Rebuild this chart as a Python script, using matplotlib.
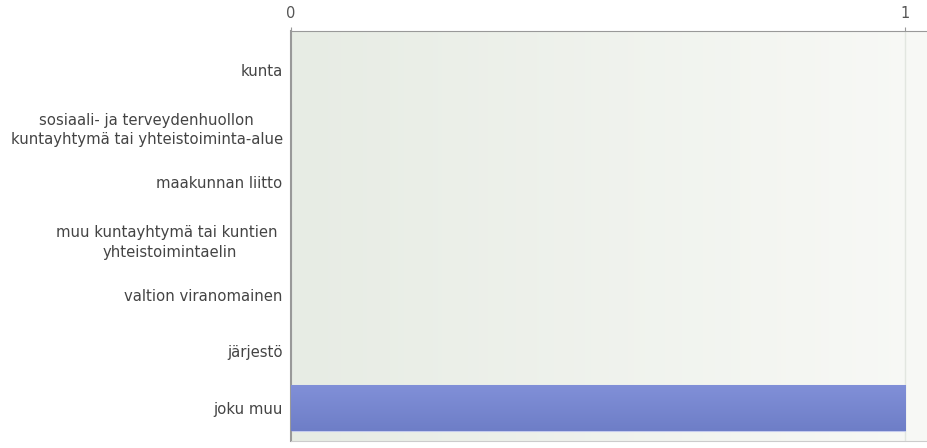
import matplotlib.pyplot as plt
import numpy as np
from matplotlib.colors import LinearSegmentedColormap

categories = ["kunta",
              "sosiaali- ja terveydenhuollon\nkuntayhtymä tai yhteistoiminta-alue",
              "maakunnan liitto",
              "muu kuntayhtymä tai kuntien \nyhteistoimintaelin",
              "valtion viranomainen",
              "järjestö",
              "joku muu"]
values = [0, 0, 0, 0, 0, 0, 1]
xticks = [0, 1]

plt.rcParams['font.family'] = ['DejaVu Sans']

fig = plt.figure(figsize=(9.28, 4.48), dpi=100)
ax = fig.add_axes([291/928, 1-441/448, 1-291/928, 410/448])

ypos = np.arange(len(categories))
ax.set_xlim(0, 1.037)
ax.set_ylim(6.59, -0.69)

# background gradient
bg = LinearSegmentedColormap.from_list('bg', ['#e7ece4', '#f8f9f6'])
ax.imshow(np.linspace(0, 1, 256).reshape(1, -1), cmap=bg, aspect='auto',
          extent=[0, 1.037, 6.59, -0.69], zorder=0)

ax.axvline(1, color='#e2e6e0', lw=1, zorder=1)

bars = ax.barh(ypos, values, height=0.82, color='#7b8ad2', zorder=2,
               edgecolor='#c4cbee', linewidth=0.8)
barcm = LinearSegmentedColormap.from_list('bar', ['#8190d8', '#6e7ec7'])
for b, v in zip(bars, values):
    if v > 0:
        y0 = b.get_y()
        im = ax.imshow(np.linspace(0, 1, 64).reshape(-1, 1), cmap=barcm, aspect='auto',
                       extent=[0, v, y0 + b.get_height(), y0], zorder=3)
        im.set_clip_path(b)

ax.set_yticks(ypos)
ax.set_yticklabels(categories, fontsize=10.7, color='#444444')
ax.tick_params(axis='y', length=0, pad=6)
for lbl in ax.get_yticklabels():
    lbl.set_horizontalalignment('right')
    lbl.set_multialignment('center')
    lbl.set_linespacing(1.35)

ax.xaxis.tick_top()
ax.set_xticks(xticks)
ax.set_xticklabels([str(t) for t in xticks], fontsize=10.5, color='#555555')
ax.tick_params(axis='x', length=3, color='#999999', pad=4)

ax.spines['right'].set_visible(False)
ax.spines['top'].set_color('#999999')
ax.spines['left'].set_color('#999999')
ax.spines['bottom'].set_color('#cccccc')
ax.spines['left'].set_linewidth(1.5)

fig.savefig('out.png', dpi=100)
